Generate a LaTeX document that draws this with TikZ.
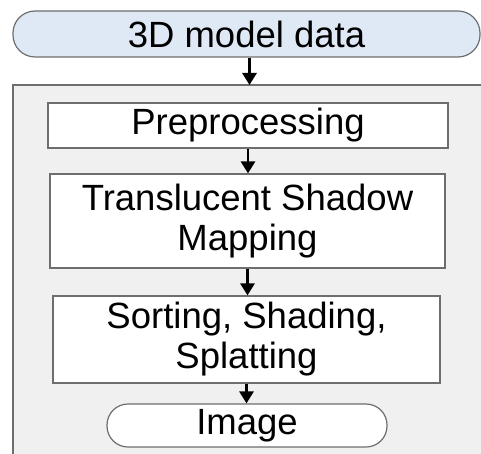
\documentclass[tikz,border=0pt]{standalone}
\usepackage{fontspec}
\setmainfont{Liberation Sans}
\usetikzlibrary{arrows.meta}
\definecolor{topfill}{HTML}{DFE9F5}
\definecolor{panelfill}{HTML}{F0F0F0}
\definecolor{edgegray}{HTML}{6E6E6E}
\begin{document}
\begin{tikzpicture}[x=1pt,y=-1pt,
  lbl/.style={font=\fontsize{36.5}{40}\selectfont, align=center, inner sep=0pt, text=black},
  stepbox/.style={lbl, draw=edgegray, line width=1.2pt, fill=white},
  flow/.style={line width=2.8pt, -{Triangle[width=14pt,length=12pt]}}]
\useasboundingbox (0,0) rectangle (481,454);
% panel
\node[fill=panelfill, draw=none, minimum width=470pt, minimum height=372pt, inner sep=0pt, anchor=north west] (panel) at (13,85) {};
\draw[edgegray, line width=1.2pt] (panel.south west) -- (panel.north west) -- (panel.north east);
% top
\node[lbl, draw=edgegray, line width=1.2pt, fill=topfill, rounded corners=22pt, minimum width=467pt, minimum height=46pt] (top) at (246.5,34) {3D model data};
\node[stepbox, minimum width=400pt, minimum height=45pt] (pre) at (248,125.5) {Preprocessing};
\node[stepbox, minimum width=395pt, minimum height=94pt] (tsm) at (247.5,221) {Translucent Shadow\\Mapping};
\node[stepbox, minimum width=387pt, minimum height=87pt] (sort) at (246.5,339.5) {Sorting, Shading,\\Splatting};
\node[stepbox, rounded corners=21pt, minimum width=280pt, minimum height=43pt] (img) at (247,425.5) {Image};
\draw[flow] ([xshift=3pt]top.south) -- ([xshift=3pt]top.south |- panel.north);
\draw[flow] (pre.south) -- (pre.south |- tsm.north);
\draw[flow] (tsm.south) -- (tsm.south |- sort.north);
\draw[flow] (sort.south) -- (sort.south |- img.north);
\end{tikzpicture}
\end{document}
